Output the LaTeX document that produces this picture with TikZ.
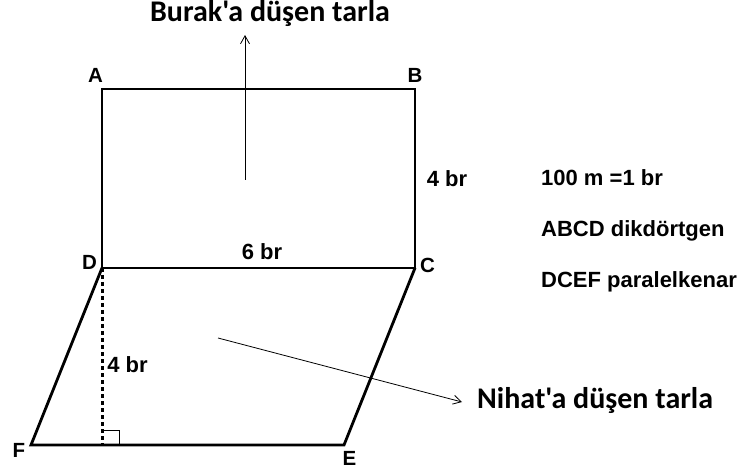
\documentclass[tikz,border=0pt]{standalone}
\usepackage{fontspec}
\setmainfont{Liberation Sans}
\newfontfamily\titlefont{Carlito}
\usetikzlibrary{arrows.meta}
\begin{document}
\begin{tikzpicture}[x=1pt,y=-1pt,
  edge/.style={line width=2.8pt,line cap=rect},
  thinarrow/.style={line width=0.8pt,-{Straight Barb[length=8pt,width=9pt,line width=0.8pt]}},
  ptlabel/.style={font=\fontsize{20.5}{20.5}\selectfont\bfseries,inner sep=0pt,anchor=base},
  measure/.style={font=\fontsize{22}{22}\selectfont\bfseries,inner sep=0pt,anchor=base},
  titlelabel/.style={font=\titlefont\fontsize{30}{30}\selectfont\bfseries,inner sep=0pt,anchor=base},
  infolabel/.style={font=\fontsize{22}{22}\selectfont\bfseries,inner sep=0pt,anchor=base west}]
\useasboundingbox (0,0) rectangle (747,470);
% points
\coordinate (A) at (102,89);
\coordinate (B) at (415,89);
\coordinate (C) at (415,268);
\coordinate (D) at (102,268);
\coordinate (F) at (31,445);
\coordinate (E) at (344,445);
\coordinate (H) at (102,445);
% shapes
\draw[edge] (A) -- (B) -- (C) -- (D) -- cycle;
\draw[edge,line cap=round] (D) -- (F) -- (E) -- (C);
\draw[line width=3pt,dash pattern=on 4pt off 3pt] (D) -- (H);
\draw[line width=0.8pt] (102,430) -- (119,430) -- (119,445);
% vertex labels
\node[ptlabel] (lA) at (95.5,83) {A};
\node[ptlabel] (lB) at (415,83) {B};
\node[ptlabel] (lC) at (427.5,273) {C};
\node[ptlabel] (lD) at (89.5,270) {D};
\node[ptlabel] (lF) at (19,457) {F};
\node[ptlabel] (lE) at (349.5,465) {E};
% measures
\node[measure] (m1) at (447,187) {4 br};
\node[measure] (m2) at (262,260) {6 br};
\node[measure] (m3) at (127.5,372) {4 br};
% titles
\node[titlelabel] (burak) at (270,22) {Burak'a düşen tarla};
\node[titlelabel,anchor=base west] (nihat) at (477,408) {Nihat'a düşen tarla};
\coordinate (bs) at (245,180);
\coordinate (bt) at (245,35);
\coordinate (ns) at (218,338);
\coordinate (nt) at (462,402);
\draw[thinarrow] (bs) -- (bt);
\draw[thinarrow] (ns) -- (nt);
% info
\node[infolabel] (i1) at (541,186) {100 m =1 br};
\node[infolabel] (i2) at (541,237) {ABCD dikdörtgen};
\node[infolabel] (i3) at (541,288) {DCEF paralelkenar};
\end{tikzpicture}
\end{document}
